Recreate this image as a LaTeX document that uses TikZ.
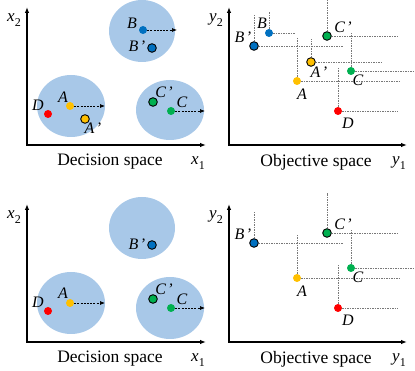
\documentclass[tikz,border=0pt]{standalone}
\usepackage{fontspec}
\setmainfont{Liberation Serif}
\newfontfamily\tnr{Liberation Serif}
\usetikzlibrary{arrows.meta}
\definecolor{ellfill}{RGB}{168,200,232}
\definecolor{cblue}{RGB}{0,112,192}
\definecolor{corange}{RGB}{255,192,0}
\definecolor{cgreen}{RGB}{0,176,80}
\definecolor{cred}{RGB}{255,0,0}
\definecolor{cgrey}{RGB}{120,120,120}
\newcommand{\vx}[2]{\textit{#1}\raisebox{-0.3em}{\fontsize{12}{12}\selectfont #2}}
\begin{document}
\begin{tikzpicture}[x=1pt,y=-1pt,
  ell/.style={fill=ellfill,draw=none},
  dot/.style={circle,inner sep=0pt,minimum size=8pt,draw=none},
  odot/.style={circle,inner sep=0pt,minimum size=8.6pt,draw=black,line width=0.9pt},
  axis/.style={line width=1.1pt,{Latex[length=6pt,width=4.5pt]}-{Latex[length=6pt,width=4.5pt]}},
  darr/.style={line width=0.7pt,dash pattern=on 2pt off 1.2pt,-{Latex[length=5pt,width=4pt]}},
  guide/.style={cgrey,line width=0.7pt,dash pattern=on 1.5pt off 1pt},
  lbl/.style={font=\tnr\fontsize{16}{16}\selectfont\itshape,inner sep=0pt},
  axl/.style={font=\tnr\fontsize{17}{17}\selectfont,inner sep=0pt},
  captext/.style={font=\tnr\fontsize{17.5}{18}\selectfont,inner sep=0pt}]
\useasboundingbox (0,0) rectangle (415,371);

% ---------------- top-left: decision space ----------------
\fill[ell] (142,31) ellipse [x radius=33,y radius=31];
\fill[ell] (71,106) ellipse [x radius=34,y radius=31];
\fill[ell] (170,110) ellipse [x radius=34,y radius=30];
\coordinate (tlo) at (27,145);
\coordinate (tlx) at (206,145);
\coordinate (tly) at (27,7);
\draw[axis] (tly) |- (tlx);
\node[axl] (tlx2) at (14,20) {\vx{x}{2}};
\node[axl] (tlx1) at (198,163) {\vx{x}{1}};
\node[captext] (tlcap) at (110,162) {Decision space};

\node[dot,fill=cblue] (tlB) at (143,30) {};
\coordinate (tlBe) at (177,30);
\draw[darr] (tlB) -- (tlBe);
\node[odot,fill=cblue] (tlBp) at (152,48) {};
\node[dot,fill=corange] (tlA) at (70,106) {};
\coordinate (tlAe) at (105,106);
\draw[darr] (tlA) -- (tlAe);
\node[odot,fill=corange] (tlAp) at (85,119) {};
\node[dot,fill=cred] (tlD) at (48,114) {};
\node[odot,fill=cgreen] (tlCp) at (153,102) {};
\node[dot,fill=cgreen] (tlC) at (171,111) {};
\coordinate (tlCe) at (205,111);
\draw[darr] (tlC) -- (tlCe);

\node[lbl] (tlBl) at (132,23) {B};
\node[lbl] (tlBpl) at (137,46) {B\kern1.5pt’};
\node[lbl] (tlAl) at (63,97) {A};
\node[lbl] (tlApl) at (93,128) {A\kern1.5pt’};
\node[lbl] (tlDl) at (38,105) {D};
\node[lbl] (tlCpl) at (164,92) {C\kern1.5pt’};
\node[lbl] (tlCl) at (182,102) {C};

% ---------------- top-right: objective space ----------------
\coordinate (tro) at (229,145);
\coordinate (trx) at (407,145);
\coordinate (try) at (229,7);
\draw[axis] (try) |- (trx);
\node[axl] (try2) at (216,20) {\vx{y}{2}};
\node[axl] (try1) at (399,163) {\vx{y}{1}};
\node[captext] (trcap) at (316,162) {Objective space};

\coordinate (trBv) at (269,12);  \coordinate (trBh) at (295,33);
\coordinate (trBpv) at (254,15); \coordinate (trBph) at (343,46);
\coordinate (trCpv) at (327,0);  \coordinate (trCph) at (398,36);
\coordinate (trApv) at (311,39); \coordinate (trAph) at (383,62);
\coordinate (trCv) at (351,33);  \coordinate (trCh) at (415,71);
\coordinate (trAv) at (297,38);  \coordinate (trAh) at (400,81);
\coordinate (trDv) at (338,68);  \coordinate (trDh) at (398,111);

\node[dot,fill=cblue] (trB) at (269,33) {};
\node[odot,fill=cblue] (trBp) at (254,46) {};
\node[odot,fill=cgreen] (trCp) at (327,36) {};
\node[odot,fill=corange] (trAp) at (311,62) {};
\node[dot,fill=cgreen] (trC) at (351,71) {};
\node[dot,fill=corange] (trA) at (297,81) {};
\node[dot,fill=cred] (trD) at (338,111) {};

\foreach \n in {B,Bp,Cp,Ap,C,A,D}{
  \draw[guide] (tr\n.north) -- (tr\n v);
  \draw[guide] (tr\n.east) -- (tr\n h);
}

\node[lbl] (trBl) at (262,23) {B};
\node[lbl] (trBpl) at (243,37) {B\kern1.5pt’};
\node[lbl] (trCpl) at (343,27) {C\kern1.5pt’};
\node[lbl] (trApl) at (319,72) {A\kern1.5pt’};
\node[lbl] (trCl) at (358,80) {C};
\node[lbl] (trAl) at (302,94) {A};
\node[lbl] (trDl) at (348,123) {D};

% ---------------- bottom-left: decision space ----------------
\fill[ell] (142,228) ellipse [x radius=33,y radius=31];
\fill[ell] (71,303) ellipse [x radius=34,y radius=31];
\fill[ell] (170,308) ellipse [x radius=34,y radius=31];
\coordinate (blo) at (27,342);
\coordinate (blx) at (206,342);
\coordinate (bly) at (27,204);
\draw[axis] (bly) |- (blx);
\node[axl] (blx2) at (14,217) {\vx{x}{2}};
\node[axl] (blx1) at (198,360) {\vx{x}{1}};
\node[captext] (blcap) at (110,359) {Decision space};

\node[odot,fill=cblue] (blBp) at (152,245) {};
\node[dot,fill=corange] (blA) at (70,303) {};
\coordinate (blAe) at (105,303);
\draw[darr] (blA) -- (blAe);
\node[dot,fill=cred] (blD) at (48,311) {};
\node[odot,fill=cgreen] (blCp) at (153,299) {};
\node[dot,fill=cgreen] (blC) at (171,308) {};
\coordinate (blCe) at (205,308);
\draw[darr] (blC) -- (blCe);

\node[lbl] (blBpl) at (137,244) {B\kern1.5pt’};
\node[lbl] (blAl) at (63,293) {A};
\node[lbl] (blDl) at (38,302) {D};
\node[lbl] (blCpl) at (164,289) {C\kern1.5pt’};
\node[lbl] (blCl) at (182,299) {C};

% ---------------- bottom-right: objective space ----------------
\coordinate (bro) at (229,342);
\coordinate (brx) at (407,342);
\coordinate (bry) at (229,204);
\draw[axis] (bry) |- (brx);
\node[axl] (bry2) at (216,217) {\vx{y}{2}};
\node[axl] (bry1) at (399,360) {\vx{y}{1}};
\node[captext] (brcap) at (316,359) {Objective space};

\coordinate (brBpv) at (254,212); \coordinate (brBph) at (343,243);
\coordinate (brCpv) at (327,193); \coordinate (brCph) at (398,233);
\coordinate (brCv) at (351,230);  \coordinate (brCh) at (415,268);
\coordinate (brAv) at (297,235);  \coordinate (brAh) at (400,278);
\coordinate (brDv) at (338,265);  \coordinate (brDh) at (398,308);

\node[odot,fill=cblue] (brBp) at (254,243) {};
\node[odot,fill=cgreen] (brCp) at (327,233) {};
\node[dot,fill=cgreen] (brC) at (351,268) {};
\node[dot,fill=corange] (brA) at (297,278) {};
\node[dot,fill=cred] (brD) at (338,308) {};

\foreach \n in {Bp,Cp,C,A,D}{
  \draw[guide] (br\n.north) -- (br\n v);
  \draw[guide] (br\n.east) -- (br\n h);
}

\node[lbl] (brBpl) at (243,234) {B\kern1.5pt’};
\node[lbl] (brCpl) at (343,224) {C\kern1.5pt’};
\node[lbl] (brCl) at (358,277) {C};
\node[lbl] (brAl) at (302,291) {A};
\node[lbl] (brDl) at (348,320) {D};
\end{tikzpicture}
\end{document}
